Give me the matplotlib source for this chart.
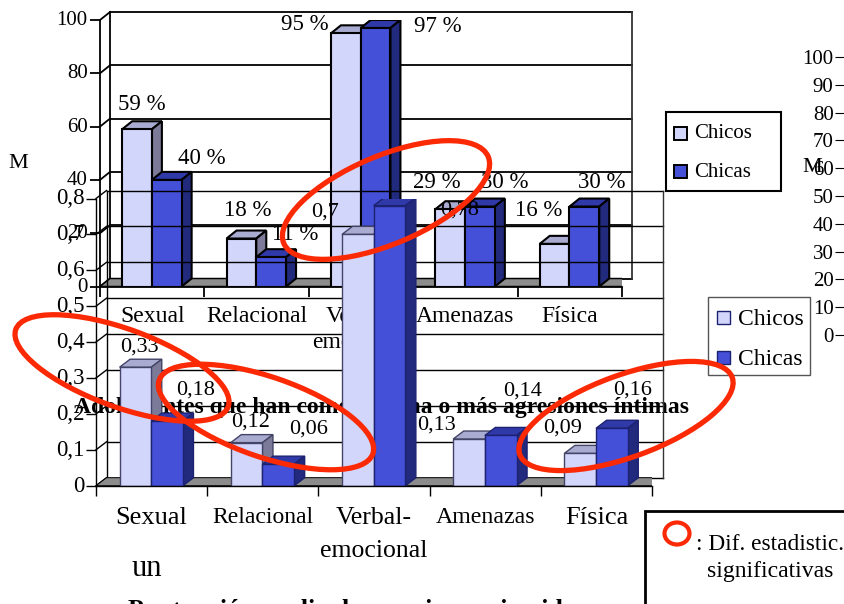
import matplotlib
matplotlib.use('Agg')
import matplotlib.pyplot as plt
from matplotlib.patches import Ellipse, Polygon, Rectangle
from matplotlib.transforms import Affine2D

plt.rcParams['font.family'] = ['Liberation Serif', 'DejaVu Serif']

categories = ['Sexual', 'Relacional', 'Verbal-\nemocional', 'Amenazas', 'Física']
legend_names = ['Chicos', 'Chicas']

# porcentaje de adolescentes
top_chicos = [59, 18, 95, 29, 16]
top_chicas = [40, 11, 97, 30, 30]
top_ticks = [0, 20, 40, 60, 80, 100]

# puntuacion media
bottom_chicos = [0.33, 0.12, 0.7, 0.13, 0.09]
bottom_chicas = [0.18, 0.06, 0.78, 0.14, 0.16]
bottom_ticks = [0, 0.1, 0.2, 0.3, 0.4, 0.5, 0.6, 0.7, 0.8]

# eje de un tercer grafico, cortado en el borde derecho
right_ticks = [0, 10, 20, 30, 40, 50, 60, 70, 80, 90, 100]

W, H = 844, 604
CHICO = ['#d3d6fb', '#a9acd0', '#7b7b99']
CHICA = ['#4450d8', '#3039a8', '#222a7e']

fig = plt.figure(figsize=(W / 100, H / 100), dpi=100)


def px_axes(left, top, right, bottom):
    ax = fig.add_axes([left / W, 1 - bottom / H, (right - left) / W, (bottom - top) / H])
    ax.patch.set_alpha(0)
    return ax


def chart(ax, chicos, chicas, ymax, ticks, dx, dy, lw, edge, grid_lw):
    # grafico de barras con falso 3D, dx y dy en pixeles
    n = len(chicos)
    ax.set_xlim(0, n)
    ax.set_ylim(0, ymax)
    trans = ax.transData
    back = trans + Affine2D().translate(dx, dy)

    # pared y suelo
    for t in ticks:
        ax.plot([0, n], [t, t], color='black', lw=grid_lw, transform=back, clip_on=False, zorder=1)
    ax.plot([0, 0], [0, ymax], color='black', lw=grid_lw, transform=back, clip_on=False, zorder=1)
    ax.plot([n, n], [0, ymax], color='#333333', lw=grid_lw, transform=back, clip_on=False, zorder=1)
    floor = Polygon([trans.transform((0, 0)), trans.transform((n, 0)),
                     back.transform((n, 0)), back.transform((0, 0))],
                    closed=True, transform=None, facecolor='#8c8c8c', edgecolor='black', lw=lw * 0.7, zorder=2)
    ax.add_artist(floor)
    for t in ticks:
        p0 = trans.transform((0, t))
        p1 = back.transform((0, t))
        ax.plot([p0[0], p1[0]], [p0[1], p1[1]], color='black', lw=grid_lw, transform=None, clip_on=False, zorder=1)

    width = 0.285
    for i in range(n):
        for j, (val, cols) in enumerate([(chicos[i], CHICO), (chicas[i], CHICA)]):
            x0 = i + 0.212 + j * width
            x1 = x0 + width
            a = trans.transform((x0, val))
            b = trans.transform((x1, val))
            c = trans.transform((x1, 0))
            off = (dx, dy)
            z = 3 + j
            top = Polygon([a, b, b + off, a + off], closed=True, transform=None,
                          facecolor=cols[1], edgecolor=edge[j], lw=lw, zorder=z)
            side = Polygon([b, c, c + off, b + off], closed=True, transform=None,
                           facecolor=cols[2], edgecolor=edge[j], lw=lw, zorder=z)
            ax.add_artist(top)
            ax.add_artist(side)
            ax.bar(x0, val, width=width, align='edge', color=cols[0], edgecolor=edge[j], lw=lw, zorder=z + 0.5)

    for s in ax.spines.values():
        s.set_visible(False)
    ax.spines['left'].set_visible(True)
    ax.spines['bottom'].set_visible(True)
    ax.spines['left'].set_linewidth(grid_lw)
    ax.spines['bottom'].set_linewidth(grid_lw)
    ax.spines['left'].set_zorder(6)
    ax.spines['bottom'].set_zorder(6)
    ax.set_yticks(ticks)
    ax.set_xticks(range(n + 1))
    ax.set_xticklabels([])
    ax.set_xticks([i + 0.5 for i in range(n)], minor=True)
    ax.tick_params(axis='x', which='minor', length=0)
    ax.tick_params(axis='both', which='major', length=7, width=grid_lw)


def lift_labels(ax, up):
    for lab in ax.get_yticklabels():
        lab.set_transform(lab.get_transform() + Affine2D().translate(0, up))


# grafico de arriba
ax_top = px_axes(100, 20, 622, 286.5)
chart(ax_top, top_chicos, top_chicas, 100, top_ticks, 10, 8, 1.5, ['black', 'black'], 1.3)
ax_top.set_yticklabels([str(t) for t in top_ticks], fontsize=15)
ax_top.tick_params(axis='y', pad=2)
lift_labels(ax_top, 2)
ax_top.set_xticklabels(categories, minor=True, fontsize=17, linespacing=1.3)
ax_top.tick_params(axis='x', which='minor', pad=14)

# titulo que queda detras del grafico de abajo
title = 'Adolescentes que han cometido una o más agresiones íntimas'
ax_top.text(382 / W, 1 - 407.5 / H, title, transform=fig.transFigure, fontsize=17, fontweight='bold',
            ha='center', va='center', zorder=0)

# grafico de abajo, encima y transparente
ax_bot = px_axes(96, 198.5, 652, 485.7)
chart(ax_bot, bottom_chicos, bottom_chicas, 0.8, bottom_ticks, 10.5, 8, 1.0, ['#444466', '#1c2270'], 1.0)
ax_bot.set_yticklabels([str(t).replace('.', ',') if t else '0' for t in bottom_ticks], fontsize=16.5)
ax_bot.tick_params(axis='y', pad=1)
lift_labels(ax_bot, 2)
ax_bot.set_xticklabels(categories, minor=True, fontsize=18, linespacing=1.7)
ax_bot.tick_params(axis='x', which='minor', pad=15)
for lab, size in zip(ax_bot.get_xticklabels(minor=True), [19, 17, 18.5, 17.2, 19]):
    lab.set_fontsize(size)

# eje del tercer grafico, solo se ve un trozo
ax_right = px_axes(846, 57, 1100, 335)
ax_right.set_ylim(0, 100)
ax_right.set_xticks([])
ax_right.set_yticks(right_ticks)
ax_right.tick_params(axis='y', labelsize=15, length=8, pad=1)
for s in ax_right.spines.values():
    s.set_visible(False)

# capa en pixeles para textos y marcas a mano
over = fig.add_axes([0, 0, 1, 1], zorder=10)
over.set_xlim(0, W)
over.set_ylim(H, 0)
over.axis('off')

top_label_xy = [(142, 105), (248, 210), (305, 25), (437, 183), (539, 211),
                (202, 159), (295, 235), (438, 26), (505, 183), (602, 183)]
for (x, y), v in zip(top_label_xy, top_chicos + top_chicas):
    over.text(x, y, f'{v} %', fontsize=16.5, ha='center', va='center')

bottom_label_xy = [(139, 347), (251, 422), (325, 212), (436, 425), (563, 428),
                   (196, 390), (309, 429), (460, 210), (523, 391), (633, 390)]
for (x, y), v in zip(bottom_label_xy, bottom_chicos + bottom_chicas):
    over.text(x, y, str(v).replace('.', ','), fontsize=16, ha='center', va='center')

over.text(18, 164, 'M', fontsize=16, ha='center', va='center')
over.text(812, 168, 'M', fontsize=16, ha='center', va='center')
over.text(147, 568, 'un', fontsize=22, ha='center', va='center')
over.text(357, 610.5, 'Puntuación media de agresiones ejercidas', fontsize=18.5, fontweight='bold',
          ha='center', va='center', clip_on=False)

# leyendas
over.add_patch(Rectangle((666, 112), 114.5, 78.5, facecolor='white', edgecolor='black', lw=1.5, zorder=5))
for name, yy, cols in zip(legend_names, [133, 171.5], [CHICO, CHICA]):
    over.add_patch(Rectangle((674, yy - 6.5), 13, 13, facecolor=cols[0], edgecolor='black', lw=1.4, zorder=6))
    over.text(694, yy + 1, name, fontsize=15, va='center', zorder=6)

over.add_patch(Rectangle((708, 297), 101.5, 77.5, facecolor='white', edgecolor='#555555', lw=1, zorder=5))
for name, yy, cols in zip(legend_names, [317.5, 357.5], [CHICO, CHICA]):
    over.add_patch(Rectangle((717, yy - 6.5), 13, 13, facecolor=cols[0], edgecolor='#1c2270', lw=1, zorder=6))
    over.text(738, yy + 2, name, fontsize=17, va='center', zorder=6)

# recuadro de la nota
over.add_patch(Rectangle((645, 511), 300, 200, facecolor='white', edgecolor='black', lw=2, zorder=5, clip_on=True))
over.text(696, 545, ': Dif. estadistic.', fontsize=16.8, va='center', zorder=6)
over.text(707, 571, 'significativas', fontsize=17, va='center', zorder=6)

# ovalos rojos
RED = '#fb2a05'
for (cx, cy, w, h, ang) in [(386, 200, 222, 88, -23), (122, 368, 226, 78, 20),
                            (266, 417, 226, 80, 19), (626, 416, 226, 82, -20)]:
    over.add_patch(Ellipse((cx, cy), w, h, angle=ang, fill=False, edgecolor=RED, lw=3.8, zorder=8))
over.add_patch(Ellipse((677, 533.5), 25, 22, fill=False, edgecolor=RED, lw=3, zorder=8))

fig.savefig('out.png', dpi=100)
